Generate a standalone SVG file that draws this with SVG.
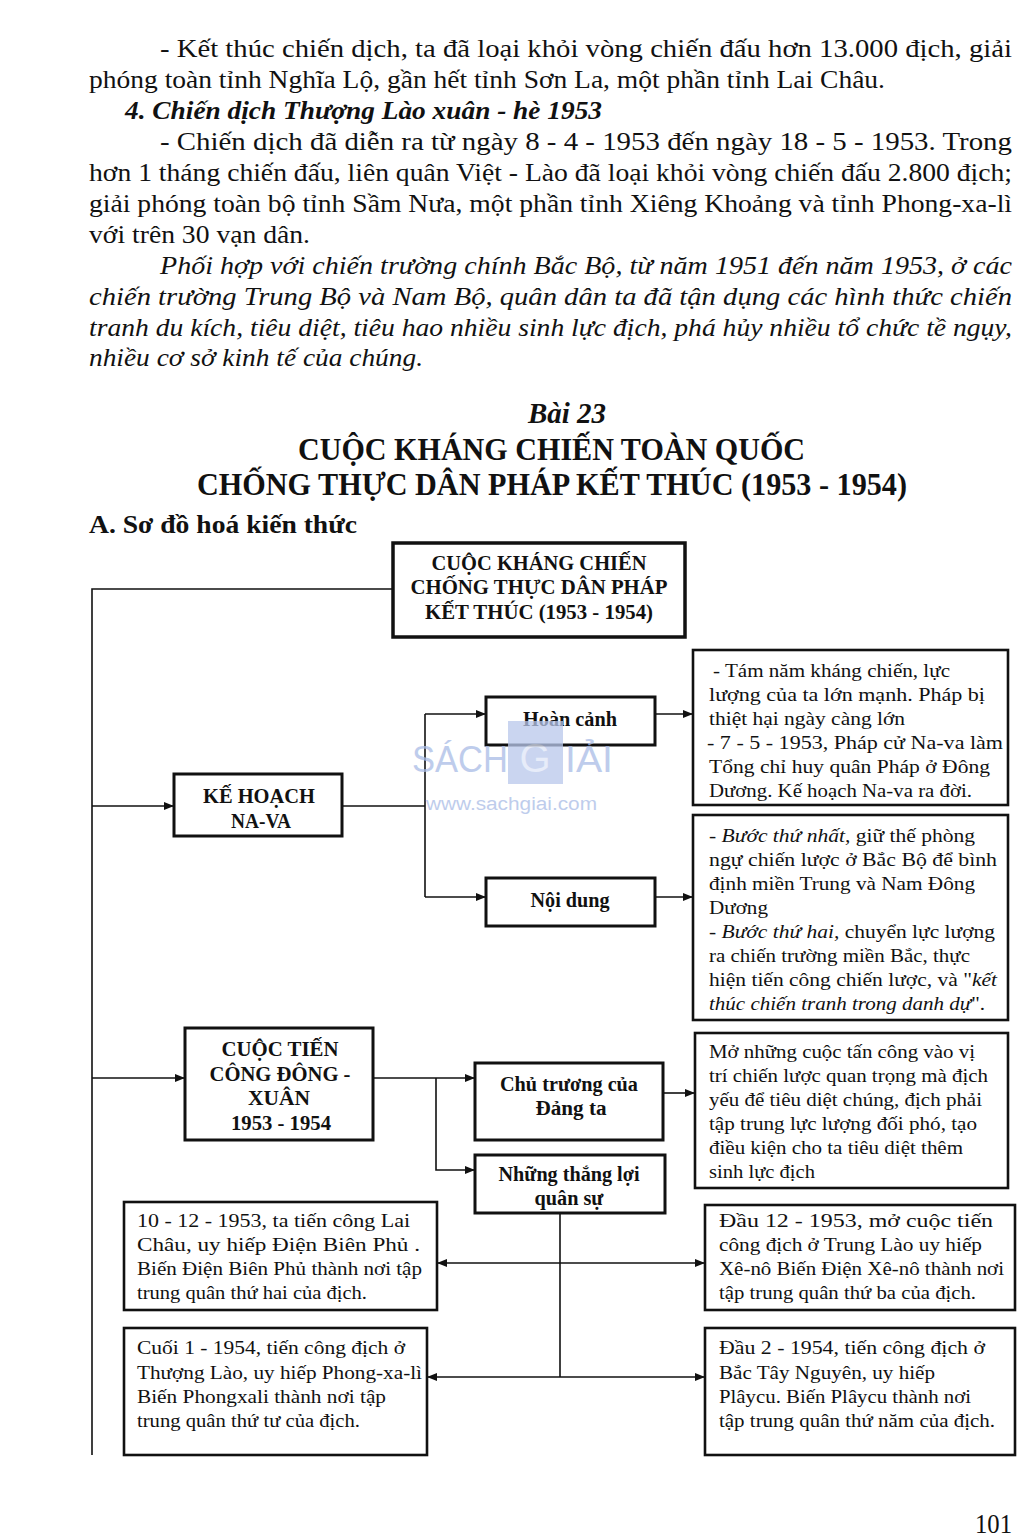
<svg xmlns="http://www.w3.org/2000/svg" width="1024" height="1537" viewBox="0 0 1024 1537">
<style>
text{font-family:"Liberation Serif","Times New Roman",serif;fill:#111}
.p{font-size:26px}
.i{font-style:italic}
.b{font-weight:bold}
.ttl{font-size:32px;font-weight:bold}
.bx{fill:#fff;stroke:#111;stroke-width:3}
.bx2{fill:#fff;stroke:#111;stroke-width:2.6}
.bt{font-size:20px;font-weight:bold;text-anchor:middle}
.t{font-size:19px}
.c{fill:none;stroke:#111;stroke-width:1.6}
.wm{font-family:"Liberation Sans",Arial,sans-serif;fill:#a9bce6}
</style>
<defs>
<marker id="ah" viewBox="0 0 10 8" refX="10" refY="4" markerWidth="10" markerHeight="8" markerUnits="userSpaceOnUse" orient="auto-start-reverse">
<path d="M0,0 L10,4 L0,8 Z" fill="#111"/>
</marker>
</defs>
<rect width="1024" height="1537" fill="#fff"/>

<g id="page-text">
<text class="p" x="160" y="57" textLength="852" lengthAdjust="spacingAndGlyphs">- Kết thúc chiến dịch, ta đã loại khỏi vòng chiến đấu hơn 13.000 địch, giải</text>
<text class="p" x="89" y="88" textLength="796" lengthAdjust="spacingAndGlyphs">phóng toàn tỉnh Nghĩa Lộ, gần hết tỉnh Sơn La, một phần tỉnh Lai Châu.</text>
<text class="p i b" x="125" y="119" textLength="477" lengthAdjust="spacingAndGlyphs">4. Chiến dịch Thượng Lào xuân - hè 1953</text>
<text class="p" x="160" y="150" textLength="852" lengthAdjust="spacingAndGlyphs">- Chiến dịch đã diễn ra từ ngày 8 - 4 - 1953 đến ngày 18 - 5 - 1953. Trong</text>
<text class="p" x="89" y="181" textLength="923" lengthAdjust="spacingAndGlyphs">hơn 1 tháng chiến đấu, liên quân Việt - Lào đã loại khỏi vòng chiến đấu 2.800 địch;</text>
<text class="p" x="89" y="212" textLength="923" lengthAdjust="spacingAndGlyphs">giải phóng toàn bộ tỉnh Sầm Nưa, một phần tỉnh Xiêng Khoảng và tỉnh Phong-xa-lì</text>
<text class="p" x="89" y="243" textLength="221" lengthAdjust="spacingAndGlyphs">với trên 30 vạn dân.</text>
<text class="p i" x="160" y="274" textLength="852" lengthAdjust="spacingAndGlyphs">Phối hợp với chiến trường chính Bắc Bộ, từ năm 1951 đến năm 1953, ở các</text>
<text class="p i" x="89" y="305" textLength="923" lengthAdjust="spacingAndGlyphs">chiến trường Trung Bộ và Nam Bộ, quân dân ta đã tận dụng các hình thức chiến</text>
<text class="p i" x="89" y="336" textLength="923" lengthAdjust="spacingAndGlyphs">tranh du kích, tiêu diệt, tiêu hao nhiều sinh lực địch, phá hủy nhiều tổ chức tề ngụy,</text>
<text class="p i" x="89" y="366" textLength="334" lengthAdjust="spacingAndGlyphs">nhiều cơ sở kinh tế của chúng.</text>
<text class="i b" style="font-size:29px" x="528" y="423" textLength="78" lengthAdjust="spacingAndGlyphs">Bài 23</text>
<text class="ttl" x="298" y="460" textLength="507" lengthAdjust="spacingAndGlyphs">CUỘC KHÁNG CHIẾN TOÀN QUỐC</text>
<text class="ttl" x="197" y="495" textLength="710" lengthAdjust="spacingAndGlyphs">CHỐNG THỰC DÂN PHÁP KẾT THÚC (1953 - 1954)</text>
<text class="p b" x="89" y="533" textLength="268" lengthAdjust="spacingAndGlyphs">A. Sơ đồ hoá kiến thức</text>
<text style="font-size:27px" x="975" y="1533" textLength="37" lengthAdjust="spacingAndGlyphs">101</text>
</g>

<g id="connectors">
<path class="c" d="M393,589 H92 V1455"/>
<path class="c" d="M92,806 H174" marker-end="url(#ah)"/>
<path class="c" d="M92,1078 H185" marker-end="url(#ah)"/>
<path class="c" d="M342,806 H425"/>
<path class="c" d="M425,714 V897"/>
<path class="c" d="M425,714 H486" marker-end="url(#ah)"/>
<path class="c" d="M425,897 H486" marker-end="url(#ah)"/>
<path class="c" d="M655,714 H693" marker-end="url(#ah)"/>
<path class="c" d="M655,897 H693" marker-end="url(#ah)"/>
<path class="c" d="M373,1078 H475" marker-end="url(#ah)"/>
<path class="c" d="M436,1078 V1170 H475" marker-end="url(#ah)"/>
<path class="c" d="M663,1093 H695" marker-end="url(#ah)"/>
<path class="c" d="M560,1213 V1377"/>
<path class="c" d="M437,1263 H705" marker-start="url(#ah)" marker-end="url(#ah)"/>
<path class="c" d="M427,1377 H705" marker-start="url(#ah)" marker-end="url(#ah)"/>
</g>

<g id="n-root">
<rect class="bx" x="393" y="543" width="292" height="94" style="stroke-width:3.5"/>
<text class="bt" x="539" y="570" textLength="215" lengthAdjust="spacingAndGlyphs">CUỘC KHÁNG CHIẾN</text>
<text class="bt" x="539" y="594" textLength="257" lengthAdjust="spacingAndGlyphs">CHỐNG THỰC DÂN PHÁP</text>
<text class="bt" x="539" y="619" textLength="228" lengthAdjust="spacingAndGlyphs">KẾT THÚC (1953 - 1954)</text>
</g>

<g id="n-kehoach">
<rect class="bx" x="174" y="774" width="168" height="62"/>
<text class="bt" x="259" y="803" textLength="112" lengthAdjust="spacingAndGlyphs">KẾ HOẠCH</text>
<text class="bt" x="261" y="828" textLength="60" lengthAdjust="spacingAndGlyphs">NA-VA</text>
</g>

<g id="n-hoancanh">
<rect class="bx" x="486" y="697" width="169" height="48"/>
<text class="bt" x="570" y="726" textLength="94" lengthAdjust="spacingAndGlyphs">Hoàn cảnh</text>
</g>

<g id="n-noidung">
<rect class="bx" x="486" y="878" width="169" height="48"/>
<text class="bt" x="570" y="907" textLength="79" lengthAdjust="spacingAndGlyphs">Nội dung</text>
</g>

<g id="n-hoancanh-detail">
<rect class="bx2" x="693" y="650" width="315" height="155"/>
<text class="t" x="713" y="677" textLength="237" lengthAdjust="spacingAndGlyphs">- Tám năm kháng chiến, lực</text>
<text class="t" x="709" y="701" textLength="276" lengthAdjust="spacingAndGlyphs">lượng của ta lớn mạnh. Pháp bị</text>
<text class="t" x="709" y="725" textLength="196" lengthAdjust="spacingAndGlyphs">thiệt hại ngày càng lớn</text>
<text class="t" x="707" y="749" textLength="296" lengthAdjust="spacingAndGlyphs">- 7 - 5 - 1953, Pháp cử Na-va làm</text>
<text class="t" x="709" y="773" textLength="281" lengthAdjust="spacingAndGlyphs">Tổng chỉ huy quân Pháp ở Đông</text>
<text class="t" x="709" y="797" textLength="263" lengthAdjust="spacingAndGlyphs">Dương. Kế hoạch Na-va ra đời.</text>
</g>

<g id="n-noidung-detail">
<rect class="bx2" x="693" y="815" width="315" height="205"/>
<text class="t" x="709" y="842" textLength="266" lengthAdjust="spacingAndGlyphs">- <tspan class="i">Bước thứ nhất,</tspan> giữ thế phòng</text>
<text class="t" x="709" y="866" textLength="288" lengthAdjust="spacingAndGlyphs">ngự chiến lược ở Bắc Bộ để bình</text>
<text class="t" x="709" y="890" textLength="266" lengthAdjust="spacingAndGlyphs">định miền Trung và Nam Đông</text>
<text class="t" x="709" y="914" textLength="59" lengthAdjust="spacingAndGlyphs">Dương</text>
<text class="t" x="709" y="938" textLength="286" lengthAdjust="spacingAndGlyphs">- <tspan class="i">Bước thứ hai,</tspan> chuyển lực lượng</text>
<text class="t" x="709" y="962" textLength="261" lengthAdjust="spacingAndGlyphs">ra chiến trường miền Bắc, thực</text>
<text class="t" x="709" y="986" textLength="288" lengthAdjust="spacingAndGlyphs">hiện tiến công chiến lược, và "<tspan class="i">kết</tspan></text>
<text class="t" x="709" y="1010" textLength="276" lengthAdjust="spacingAndGlyphs"><tspan class="i">thúc chiến tranh trong danh dự</tspan>".</text>
</g>

<g id="n-dongxuan">
<rect class="bx" x="185" y="1028" width="188" height="112"/>
<text class="bt" x="280" y="1056" textLength="117" lengthAdjust="spacingAndGlyphs">CUỘC TIẾN</text>
<text class="bt" x="280" y="1081" textLength="141" lengthAdjust="spacingAndGlyphs">CÔNG ĐÔNG -</text>
<text class="bt" x="279" y="1105" textLength="62" lengthAdjust="spacingAndGlyphs">XUÂN</text>
<text class="bt" x="281" y="1130" textLength="100" lengthAdjust="spacingAndGlyphs">1953 - 1954</text>
</g>

<g id="n-chutruong">
<rect class="bx" x="475" y="1063" width="188" height="77"/>
<text class="bt" x="569" y="1091" textLength="138" lengthAdjust="spacingAndGlyphs">Chủ trương của</text>
<text class="bt" x="571" y="1115" textLength="71" lengthAdjust="spacingAndGlyphs">Đảng ta</text>
</g>

<g id="n-thangloi">
<rect class="bx" x="475" y="1155" width="190" height="58"/>
<text class="bt" x="569" y="1181" textLength="141" lengthAdjust="spacingAndGlyphs">Những thắng lợi</text>
<text class="bt" x="569" y="1205" textLength="69" lengthAdjust="spacingAndGlyphs">quân sự</text>
</g>

<g id="n-chutruong-detail">
<rect class="bx2" x="695" y="1033" width="313" height="155"/>
<text class="t" x="709" y="1058" textLength="266" lengthAdjust="spacingAndGlyphs">Mở những cuộc tấn công vào vị</text>
<text class="t" x="709" y="1082" textLength="279" lengthAdjust="spacingAndGlyphs">trí chiến lược quan trọng mà địch</text>
<text class="t" x="709" y="1106" textLength="273" lengthAdjust="spacingAndGlyphs">yếu để tiêu diệt chúng, địch phải</text>
<text class="t" x="709" y="1130" textLength="268" lengthAdjust="spacingAndGlyphs">tập trung lực lượng đối phó, tạo</text>
<text class="t" x="709" y="1154" textLength="254" lengthAdjust="spacingAndGlyphs">điều kiện cho ta tiêu diệt thêm</text>
<text class="t" x="709" y="1178" textLength="106" lengthAdjust="spacingAndGlyphs">sinh lực địch</text>
</g>

<g id="n-laichau">
<rect class="bx2" x="124" y="1202" width="313" height="108"/>
<text class="t" x="137" y="1227" textLength="273" lengthAdjust="spacingAndGlyphs">10 - 12 - 1953, ta tiến công Lai</text>
<text class="t" x="137" y="1251" textLength="283" lengthAdjust="spacingAndGlyphs">Châu, uy hiếp Điện Biên Phủ .</text>
<text class="t" x="137" y="1275" textLength="285" lengthAdjust="spacingAndGlyphs">Biến Điện Biên Phủ thành nơi tập</text>
<text class="t" x="137" y="1299" textLength="230" lengthAdjust="spacingAndGlyphs">trung quân thứ hai của địch.</text>
</g>

<g id="n-thuonglao">
<rect class="bx2" x="124" y="1328" width="303" height="127"/>
<text class="t" x="137" y="1354" textLength="268" lengthAdjust="spacingAndGlyphs">Cuối 1 - 1954, tiến công địch ở</text>
<text class="t" x="137" y="1379" textLength="285" lengthAdjust="spacingAndGlyphs">Thượng Lào, uy hiếp Phong-xa-lì</text>
<text class="t" x="137" y="1403" textLength="249" lengthAdjust="spacingAndGlyphs">Biến Phongxali thành nơi tập</text>
<text class="t" x="137" y="1427" textLength="223" lengthAdjust="spacingAndGlyphs">trung quân thứ tư của địch.</text>
</g>

<g id="n-trunglao">
<rect class="bx2" x="705" y="1205" width="310" height="105"/>
<text class="t" x="719" y="1227" textLength="274" lengthAdjust="spacingAndGlyphs">Đầu 12 - 1953, mở cuộc tiến</text>
<text class="t" x="719" y="1251" textLength="263" lengthAdjust="spacingAndGlyphs">công địch ở Trung Lào uy hiếp</text>
<text class="t" x="719" y="1275" textLength="285" lengthAdjust="spacingAndGlyphs">Xê-nô Biến Điện Xê-nô thành nơi</text>
<text class="t" x="719" y="1299" textLength="257" lengthAdjust="spacingAndGlyphs">tập trung quân thứ ba của địch.</text>
</g>

<g id="n-taynguyen">
<rect class="bx2" x="705" y="1328" width="310" height="127"/>
<text class="t" x="719" y="1354" textLength="266" lengthAdjust="spacingAndGlyphs">Đầu 2 - 1954, tiến công địch ở</text>
<text class="t" x="719" y="1379" textLength="216" lengthAdjust="spacingAndGlyphs">Bắc Tây Nguyên, uy hiếp</text>
<text class="t" x="719" y="1403" textLength="252" lengthAdjust="spacingAndGlyphs">Plâycu. Biến Plâycu thành nơi</text>
<text class="t" x="719" y="1427" textLength="276" lengthAdjust="spacingAndGlyphs">tập trung quân thứ năm của địch.</text>
</g>

<g id="watermark" opacity="0.75">
<rect x="508" y="721" width="55" height="63" fill="#b9c8ec"/>
<text class="wm" x="412" y="772" style="font-size:37px" textLength="96" lengthAdjust="spacingAndGlyphs">SÁCH</text>
<text class="wm" x="535" y="772" style="font-size:40px;fill:#dfe6f7;text-anchor:middle">G</text>
<text class="wm" x="565" y="772" style="font-size:37px" textLength="48" lengthAdjust="spacingAndGlyphs">IẢI</text>
<text class="wm" x="426" y="810" style="font-size:18px" textLength="171" lengthAdjust="spacingAndGlyphs">www.sachgiai.com</text>
</g>
</svg>
